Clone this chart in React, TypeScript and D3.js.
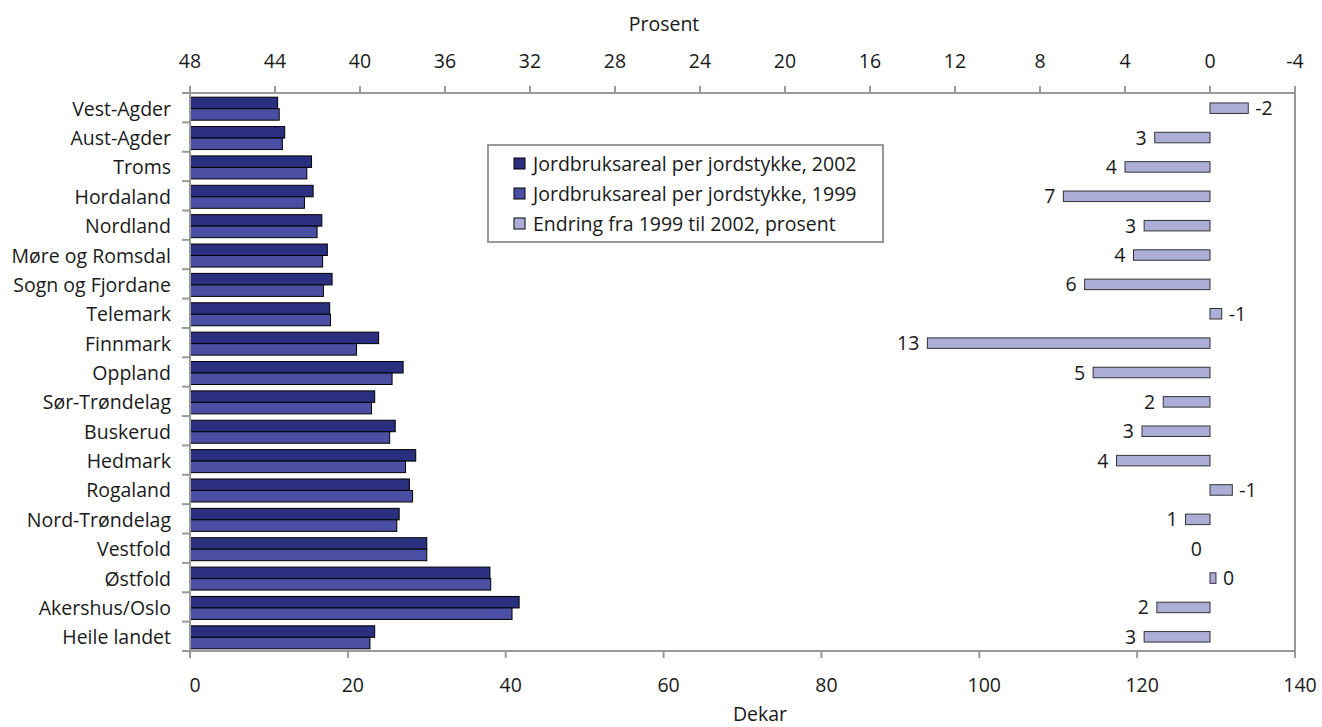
import React from "react";
import * as d3 from "d3";

const categories = [
  "Vest-Agder", "Aust-Agder", "Troms", "Hordaland", "Nordland", "Møre og Romsdal",
  "Sogn og Fjordane", "Telemark", "Finnmark", "Oppland", "Sør-Trøndelag", "Buskerud",
  "Hedmark", "Rogaland", "Nord-Trøndelag", "Vestfold", "Østfold", "Akershus/Oslo", "Heile landet",
];
const areal2002 = [11.1, 12.0, 15.4, 15.6, 16.7, 17.4, 18.0, 17.7, 23.9, 27.0, 23.4, 26.0, 28.6, 27.8, 26.5, 30.0, 38.0, 41.7, 23.4];
const areal1999 = [11.3, 11.7, 14.8, 14.5, 16.1, 16.8, 16.9, 17.8, 21.1, 25.6, 23.0, 25.3, 27.3, 28.2, 26.2, 30.0, 38.1, 40.8, 22.8];
const endring = [-1.8, 2.6, 4.0, 6.9, 3.1, 3.6, 5.9, -0.55, 13.3, 5.5, 2.2, 3.2, 4.4, -1.05, 1.15, 0, -0.28, 2.5, 3.1];
const endringLabels = ["-2", "3", "4", "7", "3", "4", "6", "-1", "13", "5", "2", "3", "4", "-1", "1", "0", "0", "2", "3"];
const bottomTicks = [0, 20, 40, 60, 80, 100, 120, 140];
const topTicks = [48, 44, 40, 36, 32, 28, 24, 20, 16, 12, 8, 4, 0, -4];
const legendLabels = [
  "Jordbruksareal per jordstykke, 2002",
  "Jordbruksareal per jordstykke, 1999",
  "Endring fra 1999 til 2002, prosent",
];

const COL2002 = "#2b2f80";
const COL1999 = "#4b4fa3";
const COLPCT = "#adaed8";
const AXIS = "#999999";
const FONT = "'Open Sans', sans-serif";
const FS = 19.5;
const TXT = "#1a1a1a";

export default function App() {
  const left = 190, right = 1295, top = 93, bottom = 651;
  const x = d3.scaleLinear().domain([0, 140]).range([left, right]);
  const xp = d3.scaleLinear().domain([48, -4]).range([left, right]);
  const y = d3.scaleBand<string>().domain(categories).range([top, bottom]).padding(0);
  const bw = y.bandwidth();
  const barH = 11.5;
  const pctH = 10.5;

  return (
    <svg width={1322} height={727} style={{ position: "absolute", left: 0, top: 0, fontFamily: FONT }}>
      <rect x={0} y={0} width={1322} height={727} fill="#fff" />
      {/* bars */}
      {categories.map((c, i) => {
        const cy = (y(c) as number) + bw / 2 + 1;
        return (
          <g key={c}>
            <rect x={x(0)} y={cy - barH} width={x(areal2002[i]) - x(0)} height={barH} fill={COL2002} stroke="#000" strokeWidth={1} />
            <rect x={x(0)} y={cy} width={x(areal1999[i]) - x(0)} height={barH} fill={COL1999} stroke="#000" strokeWidth={1} />
          </g>
        );
      })}
      {/* percent bars */}
      {categories.map((c, i) => {
        const cy = (y(c) as number) + bw / 2 + 0.5;
        const v = endring[i];
        const x0 = xp(0), x1 = xp(v);
        const neg = v < 0;
        return (
          <g key={"p" + c}>
            {v !== 0 && (
              <rect x={Math.min(x0, x1)} y={cy - pctH / 2} width={Math.abs(x1 - x0)} height={pctH} fill={COLPCT} stroke="#333" strokeWidth={1} />
            )}
            <text x={neg ? Math.max(x0, x1) + 7 : Math.min(x0, x1) - 8} y={cy} dy="0.36em" textAnchor={neg ? "start" : "end"} fontSize={FS} fill={TXT}>
              {endringLabels[i]}
            </text>
          </g>
        );
      })}
      {/* frame */}
      <line x1={left} x2={right} y1={top} y2={top} stroke={AXIS} strokeWidth={2} />
      <line x1={left} x2={right} y1={bottom} y2={bottom} stroke={AXIS} strokeWidth={2} />
      <line x1={left} x2={left} y1={top} y2={bottom} stroke={AXIS} strokeWidth={2} />
      <line x1={right} x2={right} y1={top} y2={bottom} stroke={AXIS} strokeWidth={2} />
      {/* top axis */}
      {topTicks.map((t) => (
        <g key={"t" + t}>
          <line x1={xp(t)} x2={xp(t)} y1={top} y2={top - 7} stroke={AXIS} strokeWidth={2} />
          <text x={xp(t)} y={61} dy="0.36em" textAnchor="middle" fontSize={FS} fill={TXT}>{t}</text>
        </g>
      ))}
      <text x={664} y={31} textAnchor="middle" fontSize={FS} fill={TXT}>Prosent</text>
      {/* bottom axis */}
      {bottomTicks.map((t) => (
        <g key={"b" + t}>
          <line x1={x(t)} x2={x(t)} y1={bottom} y2={bottom + 7} stroke={AXIS} strokeWidth={2} />
          <text x={x(t) + 5} y={685} dy="0.36em" textAnchor="middle" fontSize={FS} fill={TXT}>{t}</text>
        </g>
      ))}
      <text x={760} y={721} textAnchor="middle" fontSize={FS} fill={TXT}>Dekar</text>
      {/* left axis */}
      {categories.map((c) => (
        <line key={"lt" + c} x1={left - 8} x2={left} y1={y(c) as number} y2={y(c) as number} stroke={AXIS} strokeWidth={2} />
      ))}
      <line x1={left - 8} x2={left} y1={bottom} y2={bottom} stroke={AXIS} strokeWidth={2} />
      {categories.map((c) => (
        <text key={"l" + c} x={171} y={(y(c) as number) + bw / 2 + 1} dy="0.36em" textAnchor="end" fontSize={FS} fill={TXT}>{c}</text>
      ))}
      {/* legend */}
      <rect x={488} y={145} width={395} height={97} fill="#fff" stroke={AXIS} strokeWidth={2} />
      {legendLabels.map((l, i) => (
        <g key={l}>
          <rect x={514} y={158 + i * 30} width={11} height={11} fill={[COL2002, COL1999, COLPCT][i]} stroke="#000" strokeWidth={1} />
          <text x={533} y={164 + i * 30} dy="0.36em" fontSize={FS} fill={TXT}>{l}</text>
        </g>
      ))}
    </svg>
  );
}
